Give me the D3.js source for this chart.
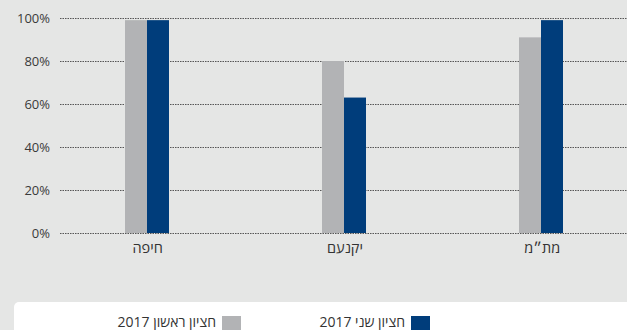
<!DOCTYPE html>
<html><head><meta charset="utf-8">
<script src="https://cdn.jsdelivr.net/npm/d3@7"></script>
<style>html,body{margin:0;padding:0;background:#e5e6e5;overflow:hidden}</style>
</head><body>
<svg id="c" width="627" height="330"></svg>
<script>
const categories = ["חיפה", "יקנעם", "מת״מ"];
const seriesNames = ["חציון ראשון 2017", "חציון שני 2017"];
const firstHalf2017 = [99, 80, 91];
const secondHalf2017 = [99, 63, 99];
const yTicks = [0, 20, 40, 60, 80, 100];

const colors = ["#b2b3b5", "#003d7b"];
const svg = d3.select("#c");
svg.append("rect").attr("width", 627).attr("height", 330).attr("fill", "#e5e6e5");

const y = d3.scaleLinear().domain([0, 100]).range([233, 18]);
const x = d3.scaleBand().domain(categories).range([48, 640]);
const xi = d3.scaleBand().domain([0, 1]).range([0, 44]);

const font = "'Open Sans', 'Noto Sans', sans-serif";

// grid
const grid = svg.append("g");
grid.selectAll("line").data(yTicks).join("line")
  .attr("x1", 60).attr("x2", 627)
  .attr("y1", d => Math.round(y(d)) + 0.5).attr("y2", d => Math.round(y(d)) + 0.5)
  .attr("stroke", "#555").attr("stroke-width", 1).attr("stroke-dasharray", "1.5,1");

// y axis labels
const yAxis = d3.axisLeft(y).tickValues(yTicks).tickFormat(d => d + "%").tickSize(0).tickPadding(0);
const ya = svg.append("g").attr("transform", "translate(50,0)").call(yAxis);
ya.select(".domain").remove();
ya.selectAll("text").attr("font-family", font).attr("font-size", 13).attr("fill", "#3a3a3a");

// bars
const series = [firstHalf2017, secondHalf2017];
series.forEach((vals, si) => {
  svg.append("g").selectAll("rect").data(vals).join("rect")
    .attr("x", (d, i) => Math.round(x(categories[i]) + x.bandwidth() / 2 - 22) + xi(si))
    .attr("width", xi.bandwidth())
    .attr("y", d => y(d))
    .attr("height", d => y(0) - y(d))
    .attr("fill", colors[si]);
});

// x labels
const xAxis = d3.axisBottom(x).tickSize(0).tickPadding(0);
const xa = svg.append("g").attr("transform", "translate(1,253)").call(xAxis);
xa.select(".domain").remove();
xa.selectAll("text").attr("font-family", font).attr("font-size", 14.5).attr("fill", "#333")
  .attr("y", 0).attr("dy", 0);

// legend
svg.append("rect").attr("x", 14).attr("y", 302).attr("width", 640).attr("height", 60)
  .attr("rx", 5).attr("fill", "#ffffff");
const legendItems = [
  {name: seriesNames[1], color: colors[1], sx: 411},
  {name: seriesNames[0], color: colors[0], sx: 222}
];
const lg = svg.append("g");
legendItems.forEach(it => {
  lg.append("rect").attr("x", it.sx).attr("y", 316).attr("width", 19).attr("height", 19).attr("fill", it.color);
  lg.append("text").attr("x", it.sx - 6).attr("y", 326.5).attr("text-anchor", "start")
    .attr("direction", "rtl")
    .attr("font-family", font).attr("font-size", 14).attr("fill", "#333").text(it.name);
});
</script>
</body></html>
